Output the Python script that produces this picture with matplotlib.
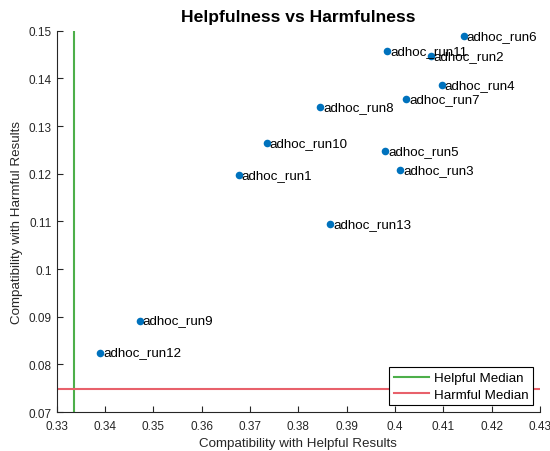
import matplotlib
matplotlib.use("Agg")
import matplotlib.pyplot as plt

# run names and scores
runs = ["adhoc_run1", "adhoc_run2", "adhoc_run3", "adhoc_run4", "adhoc_run5",
        "adhoc_run6", "adhoc_run7", "adhoc_run8", "adhoc_run9", "adhoc_run10",
        "adhoc_run11", "adhoc_run12", "adhoc_run13"]
helpful = [0.3677, 0.4074, 0.4011, 0.4097, 0.3980, 0.4142, 0.4023,
           0.3845, 0.3472, 0.3735, 0.3984, 0.3390, 0.3866]
harmful = [0.1197, 0.1447, 0.1208, 0.1386, 0.1247, 0.1488, 0.1357,
           0.1339, 0.0892, 0.1264, 0.1458, 0.0825, 0.1094]
helpful_median = 0.3336
harmful_median = 0.0748

xticks = [0.33, 0.34, 0.35, 0.36, 0.37, 0.38, 0.39, 0.40, 0.41, 0.42, 0.43]
xticklabels = ["0.33", "0.34", "0.35", "0.36", "0.37", "0.38", "0.39", "0.4", "0.41", "0.42", "0.43"]
yticks = [0.07, 0.08, 0.09, 0.10, 0.11, 0.12, 0.13, 0.14, 0.15]
yticklabels = ["0.07", "0.08", "0.09", "0.1", "0.11", "0.12", "0.13", "0.14", "0.15"]

plt.rcParams['font.family'] = ['Liberation Sans', 'DejaVu Sans']

fig = plt.figure(figsize=(5.5, 4.52), dpi=100)
ax = fig.add_axes([0.103, 0.086, 0.879, 0.844])

ax.scatter(helpful, harmful, s=30, color="#0072BD", zorder=3, linewidths=0)
for name, x, y in zip(runs, helpful, harmful):
    ax.text(x + 0.0006, y, name, fontsize=9.6, va="center", ha="left", color="black")

ax.axvline(helpful_median, color="#4daf4a", lw=1.5, label="Helpful Median")
ax.axhline(harmful_median, color="#e8616b", lw=1.5, label="Harmful Median")

ax.set_xlim(0.33, 0.43)
ax.set_ylim(0.07, 0.15)
ax.set_xticks(xticks)
ax.set_xticklabels(xticklabels)
ax.set_yticks(yticks)
ax.set_yticklabels(yticklabels)
ax.tick_params(direction="in", length=4, labelsize=8.5, colors="#262626")
ax.tick_params(axis="x", pad=6)

ax.spines['top'].set_visible(False)
ax.spines['right'].set_visible(False)
ax.spines['left'].set_color("#262626")
ax.spines['bottom'].set_color("#262626")

ax.set_xlabel("Compatibility with Helpful Results", fontsize=9.6, color="#262626", labelpad=3)
ax.set_ylabel("Compatibility with Harmful Results", fontsize=9.6, color="#262626", labelpad=4)
ax.set_title("Helpfulness vs Harmfulness", fontsize=12.6, fontweight="bold", pad=7)

leg = ax.legend(loc="lower right", fontsize=9.6, fancybox=False, framealpha=1,
                edgecolor="black", borderpad=0.35, handlelength=2.6,
                handletextpad=0.4, labelspacing=0.3, borderaxespad=0.5)
leg.get_frame().set_linewidth(0.8)

fig.savefig("out.png", dpi=100)
